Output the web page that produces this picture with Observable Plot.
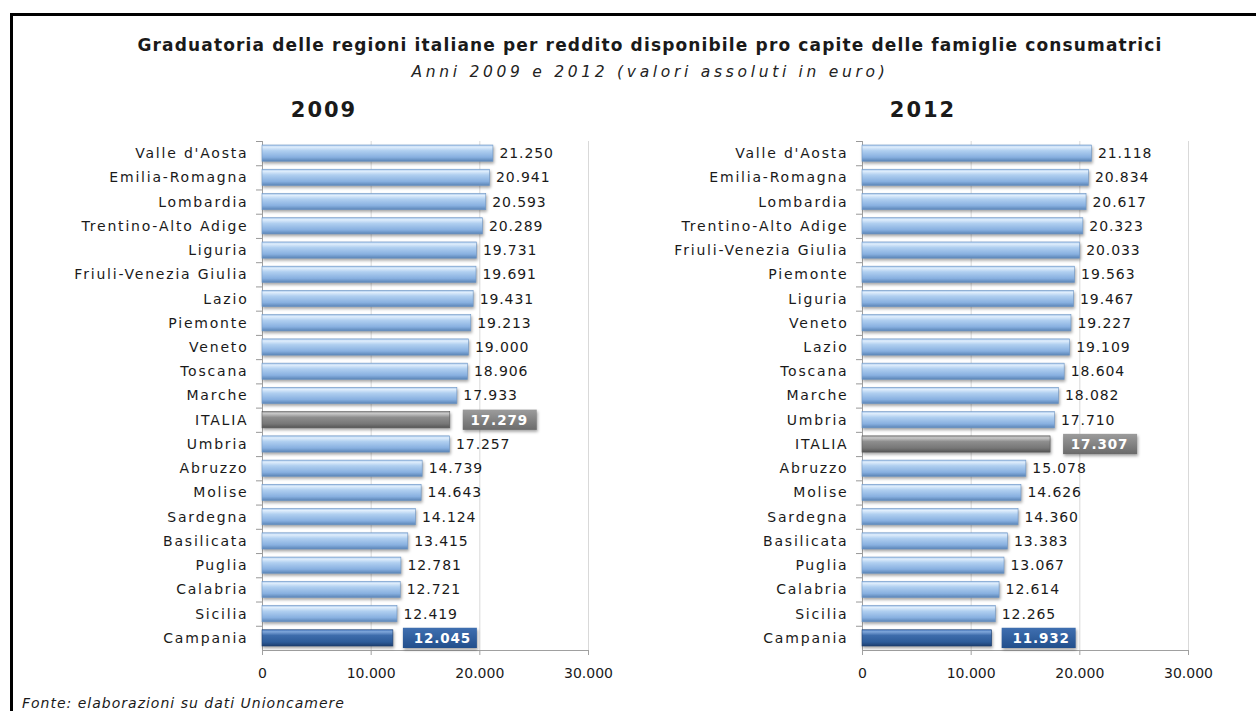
<!DOCTYPE html>
<html><head><meta charset="utf-8">
<script src="https://cdn.jsdelivr.net/npm/d3@7"></script>
<script src="https://cdn.jsdelivr.net/npm/@observablehq/plot@0.6"></script>
<style>
body{margin:0;width:1256px;height:711px;overflow:hidden;background:#fff;position:relative;font-family:"DejaVu Sans",sans-serif;color:#1a1a1a}
#frame{position:absolute;left:10px;top:13px;width:1300px;height:800px;border:3px solid #000;box-sizing:border-box}
#title{position:absolute;left:0;width:1300px;top:35px;text-align:center;font-weight:bold;font-size:17px;letter-spacing:1.15px;white-space:nowrap}
#subtitle{position:absolute;left:0;width:1300px;top:63px;text-align:center;font-style:italic;font-size:15.5px;letter-spacing:3.7px;white-space:nowrap;color:#222}
.year{position:absolute;top:98px;width:200px;text-align:center;font-weight:bold;font-size:21px;letter-spacing:2px}
.panel{position:absolute;top:130px}
.panel svg g[aria-label="y-axis tick label"]{letter-spacing:1.8px}
.panel svg g[aria-label="text"]{letter-spacing:0.9px}
#caption{position:absolute;left:22px;top:695px;font-style:italic;font-size:14px;letter-spacing:1px;white-space:nowrap}
</style></head>
<body>
<div id="frame"></div>
<div id="title">Graduatoria delle regioni italiane per reddito disponibile pro capite delle famiglie consumatrici</div>
<div id="subtitle">Anni 2009 e 2012 (valori assoluti in euro)</div>
<div class="year" style="left:224px">2009</div>
<div class="year" style="left:823px">2012</div>
<div class="panel" id="p2009" style="left:0px"></div>
<div class="panel" id="p2012" style="left:600px"></div>
<div id="caption">Fonte: elaborazioni su dati Unioncamere</div>
<script>
const regions2009 = ["Valle d'Aosta","Emilia-Romagna","Lombardia","Trentino-Alto Adige","Liguria","Friuli-Venezia Giulia","Lazio","Piemonte","Veneto","Toscana","Marche","ITALIA","Umbria","Abruzzo","Molise","Sardegna","Basilicata","Puglia","Calabria","Sicilia","Campania"];
const values2009 = [21250,20941,20593,20289,19731,19691,19431,19213,19000,18906,17933,17279,17257,14739,14643,14124,13415,12781,12721,12419,12045];
const regions2012 = ["Valle d'Aosta","Emilia-Romagna","Lombardia","Trentino-Alto Adige","Friuli-Venezia Giulia","Piemonte","Liguria","Veneto","Lazio","Toscana","Marche","Umbria","ITALIA","Abruzzo","Molise","Sardegna","Basilicata","Puglia","Calabria","Sicilia","Campania"];
const values2012 = [21118,20834,20617,20323,20033,19563,19467,19227,19109,18604,18082,17710,17307,15078,14626,14360,13383,13067,12614,12265,11932];
const xTicks = [0,10000,20000,30000];
const averageName = "ITALIA";
const minimumName = "Campania";

const itLocale = d3.formatLocale({decimal:",", thousands:".", grouping:[3], currency:["€",""]});
const fmt = itLocale.format(",");

function makePanel(id, regions, values){
  const data = regions.map((r,i)=>({region:r, value:values[i]}));
  const normal = data.filter(d=>d.region!==averageName && d.region!==minimumName);
  const avg = data.filter(d=>d.region===averageName);
  const min = data.filter(d=>d.region===minimumName);
  const boxes = avg.concat(min);
  const W = 620, H = 570, mt = 11, mb = 50;
  const pInner = 0.33, pOuter = 0.165;
  const step = (H - mt - mb) / (regions.length - pInner + 2 * pOuter);
  const gid = id + "-";
  const defs = () => {
    const d = d3.create("svg:defs");
    const grad = (name, stops) => {
      const g = d.append("linearGradient").attr("id", gid+name).attr("x1",0).attr("y1",0).attr("x2",0).attr("y2",1);
      stops.forEach(([o,c])=>g.append("stop").attr("offset",o).attr("stop-color",c));
    };
    grad("blue", [[0,"#a3c4ea"],[0.12,"#e0eefc"],[0.35,"#b0cff0"],[0.75,"#88b0e0"],[1,"#5a84b6"]]);
    grad("gray", [[0,"#9a9a9a"],[0.12,"#c8c8c8"],[0.35,"#8e8e8e"],[0.75,"#777"],[1,"#555"]]);
    grad("dark", [[0,"#4f7fbf"],[0.12,"#7ea6da"],[0.35,"#3d6cab"],[0.75,"#2d5c9a"],[1,"#1d3f70"]]);
    grad("boxgray", [[0,"#9c9c9c"],[1,"#6b6b6b"]]);
    grad("boxdark", [[0,"#3f6fb0"],[1,"#224f8c"]]);
    return d.node();
  };
  const shadow = "drop-shadow(1px 2px 1.5px rgba(0,0,0,0.35))";
  const plot = Plot.plot({
    width: W, height: H, marginLeft: 262, marginRight: 32, marginTop: mt, marginBottom: mb,
    style: {fontFamily: "DejaVu Sans, sans-serif", fontSize: "14px", color: "#1a1a1a", background: "transparent", overflow: "visible"},
    x: {domain: [0, 30000], label: null},
    y: {domain: regions, paddingInner: pInner, paddingOuter: pOuter, round: false, label: null},
    marks: [
      defs,
      Plot.gridX(xTicks.slice(1), {stroke: "#d9d9d9", strokeOpacity: 1}),
      Plot.ruleY(regions, {y: d=>d, x1: 0, x2: 0, insetLeft: -6, dy: -step/2, stroke: "#999"}),
      Plot.frame({anchor: "bottom", stroke: "#a0a0a0"}),
      Plot.frame({anchor: "left", stroke: "#a0a0a0"}),
      Plot.axisX(xTicks, {tickSize: 5, tickPadding: 13, tickFormat: fmt, stroke: "#a0a0a0", fontSize: 14, fill: "#1a1a1a"}),
      Plot.axisY({tickSize: 0, tickPadding: 14, fontSize: 14, fill: "#1a1a1a"}),
      Plot.barX(normal, {x: "value", y: "region", fill: `url(#${gid}blue)`, stroke: "#6f97c6", strokeWidth: 0.6, imageFilter: shadow}),
      Plot.barX(avg, {x: "value", y: "region", fill: `url(#${gid}gray)`, stroke: "#5a5a5a", strokeWidth: 0.6, imageFilter: shadow}),
      Plot.barX(min, {x: "value", y: "region", fill: `url(#${gid}dark)`, stroke: "#1d3f70", strokeWidth: 0.6, imageFilter: shadow}),
      Plot.text(normal, {x: "value", y: "region", text: d=>fmt(d.value), dx: 6, textAnchor: "start", fontSize: 14, fill: "#1a1a1a"}),
      Plot.barX(avg, {x1: "value", x2: "value", y: "region", insetLeft: 13, insetRight: -87, insetTop: -2, insetBottom: -2, fill: `url(#${gid}boxgray)`, imageFilter: shadow}),
      Plot.barX(min, {x1: "value", x2: "value", y: "region", insetLeft: 10, insetRight: -84, insetTop: -2, insetBottom: -2, fill: `url(#${gid}boxdark)`, imageFilter: shadow}),
      Plot.text(boxes, {x: "value", y: "region", text: d=>fmt(d.value), dx: 49, textAnchor: "middle", fontSize: 13.5, fontWeight: "bold", fill: "#ffffff"})
    ]
  });
  document.getElementById(id).appendChild(plot);
}
makePanel("p2009", regions2009, values2009);
makePanel("p2012", regions2012, values2012);
</script>
</body></html>
